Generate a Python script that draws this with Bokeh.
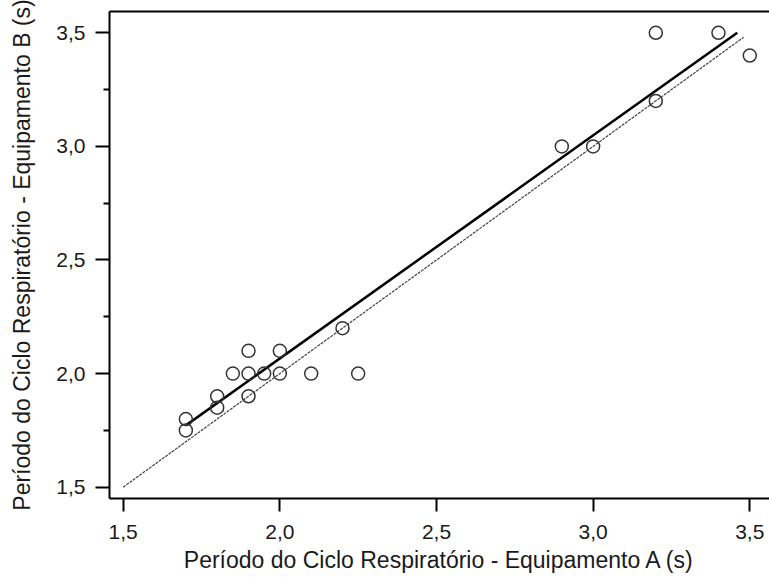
from bokeh.plotting import figure
from bokeh.models import LinearAxis, FixedTicker, Range1d
from bokeh.embed import file_html
from bokeh.resources import INLINE

# Data
equip_a = [1.7, 1.7, 1.8, 1.8, 1.85, 1.9, 1.9, 1.9, 1.95, 2.0, 2.0, 2.1, 2.2, 2.25,
           2.9, 3.0, 3.2, 3.2, 3.4, 3.5]
equip_b = [1.8, 1.75, 1.9, 1.85, 2.0, 2.1, 2.0, 1.9, 2.0, 2.1, 2.0, 2.0, 2.2, 2.0,
           3.0, 3.0, 3.5, 3.2, 3.5, 3.4]
fit_x = [1.7, 3.46]
fit_y = [1.772, 3.5]
identity_x = [1.5, 3.48]
identity_y = [1.5, 3.48]
tick_values = [1.5, 2.0, 2.5, 3.0, 3.5]
tick_labels = ["1,5", "2,0", "2,5", "3,0", "3,5"]
x_label = "Período do Ciclo Respiratório - Equipamento A (s)"
y_label = "Período do Ciclo Respiratório - Equipamento B (s)"

FONT = "Liberation Sans"
TXT = "#1a1a1a"

p = figure(frame_width=660, frame_height=487, output_backend="svg", toolbar_location=None,
           x_range=Range1d(1.4563, 3.5629), y_range=Range1d(1.4502, 3.5937),
           x_axis_location=None, y_axis_location=None,
           min_border_left=109, min_border_right=0, min_border_top=11, min_border_bottom=0)
p.outline_line_color = None
p.grid.visible = False
p.background_fill_color = "white"
p.border_fill_color = "white"

overrides = {v: t for v, t in zip(tick_values, tick_labels)}

xaxis = LinearAxis(ticker=FixedTicker(ticks=tick_values), axis_label=x_label)
xaxis.major_label_overrides = overrides
yaxis = LinearAxis(ticker=FixedTicker(ticks=tick_values,
                                      minor_ticks=[1.75, 2.25, 2.75, 3.25]),
                   axis_label=y_label)
yaxis.major_label_overrides = overrides
for ax in (xaxis, yaxis):
    ax.axis_line_width = 2
    ax.axis_line_color = "black"
    ax.major_tick_line_width = 2
    ax.major_tick_line_color = "black"
    ax.minor_tick_line_width = 2
    ax.minor_tick_line_color = "black"
    ax.major_tick_in = 0
    ax.minor_tick_in = 0
    ax.major_label_text_font = FONT
    ax.major_label_text_font_size = "21px"
    ax.major_label_text_color = TXT
    ax.axis_label_text_font = FONT
    ax.axis_label_text_font_size = "23px"
    ax.axis_label_text_font_style = "normal"
    ax.axis_label_text_color = TXT
xaxis.major_tick_out = 13
xaxis.minor_tick_out = 0
xaxis.major_label_standoff = 13
xaxis.axis_label_standoff = 5
yaxis.major_tick_out = 14
yaxis.minor_tick_out = 6
yaxis.major_label_standoff = 10
yaxis.axis_label_standoff = 18

top = LinearAxis(ticker=FixedTicker(ticks=[]), axis_line_width=2, axis_line_color="black",
                 major_tick_out=0, major_tick_in=0, minor_tick_out=0, minor_tick_in=0,
                 major_label_standoff=0, major_label_text_font_size="0px")

p.add_layout(xaxis, "below")
p.add_layout(yaxis, "left")
p.add_layout(top, "above")

p.line(identity_x, identity_y, line_color="#444444", line_width=1.2, line_dash="3 1")
p.line(fit_x, fit_y, line_color="black", line_width=2.5)
p.scatter(equip_a, equip_b, marker="circle", size=13, fill_color=None,
          line_color="#333333", line_width=1.5)

open("out.html", "w").write(file_html(p, INLINE))
